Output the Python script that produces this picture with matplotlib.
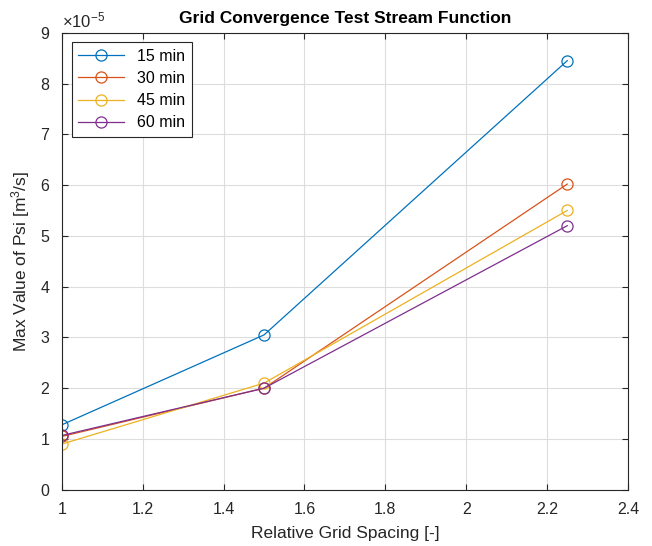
import matplotlib
matplotlib.use("Agg")
import matplotlib.pyplot as plt

spacing = [1.0, 1.5, 2.25]
series_labels = ["15 min", "30 min", "45 min", "60 min"]
psi_15 = [1.28, 3.05, 8.45]
psi_30 = [1.05, 2.00, 6.02]
psi_45 = [0.90, 2.10, 5.50]
psi_60 = [1.07, 2.00, 5.20]
colors = ["#0072BD", "#D95319", "#EDB120", "#7E2F8E"]

plt.rcParams['font.family'] = ['Liberation Sans', 'DejaVu Sans']
plt.rcParams['mathtext.fontset'] = 'custom'
plt.rcParams['mathtext.rm'] = 'Liberation Sans'
plt.rcParams['mathtext.it'] = 'Liberation Sans'
fig = plt.figure(figsize=(6.52, 5.46), dpi=100)
ax = fig.add_axes([0.095, 0.103, 0.868, 0.837])

for vals, lab, c in zip([psi_15, psi_30, psi_45, psi_60], series_labels, colors):
    ax.plot(spacing, vals, '-o', color=c, label=lab, linewidth=0.9,
            markerfacecolor='none', markersize=8, markeredgewidth=0.9)

ax.set_xlim(1, 2.4)
ax.set_ylim(0, 9)
ax.set_xticks([1, 1.2, 1.4, 1.6, 1.8, 2, 2.2, 2.4])
ax.set_xticklabels(["1", "1.2", "1.4", "1.6", "1.8", "2", "2.2", "2.4"])
ax.set_yticks(range(0, 10))
ax.grid(True, color='#dddddd', linewidth=0.8)
ax.tick_params(direction='in', labelsize=11.5, colors='#262626', length=4, top=True, right=True)
ax.tick_params(axis='x', pad=9)
ax.tick_params(axis='y', pad=9)
for s in ax.spines.values():
    s.set_color('#262626')
    s.set_linewidth(0.8)
ax.set_xlabel("Relative Grid Spacing [-]", fontsize=12.5, color='#262626', labelpad=6)
ax.set_ylabel("Max Value of Psi [m$^3$/s]", fontsize=12.5, color='#262626', labelpad=6)
ax.set_title("Grid Convergence Test Stream Function", fontsize=12.5, fontweight='bold', color='black', pad=7)
ax.text(0.0, 1.005, r"$\times10^{-5}$", transform=ax.transAxes, fontsize=12,
        color='#262626', va='bottom', ha='left')

leg = ax.legend(loc='upper left', fontsize=11.5, fancybox=False, edgecolor='#262626',
                framealpha=1, borderaxespad=0.6, handlelength=2.9, labelspacing=0.45)
leg.get_frame().set_linewidth(0.8)

fig.savefig("out.png", dpi=100, facecolor='white')
